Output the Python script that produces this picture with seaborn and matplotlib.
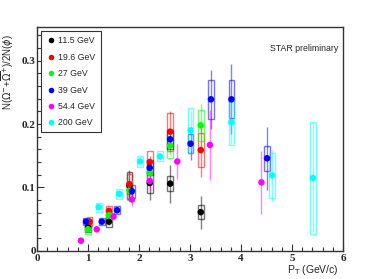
import numpy as np
import pandas as pd
import matplotlib
matplotlib.use("Agg")
import matplotlib.pyplot as plt
from matplotlib.patches import Rectangle
from matplotlib.ticker import MultipleLocator
import seaborn as sns

# data: pT, ratio, stat error, sys error
energies = ["11.5 GeV", "19.6 GeV", "27 GeV", "39 GeV", "54.4 GeV", "200 GeV"]
colors = ["#000000", "#FF0000", "#00FF00", "#0000FF", "#FF00FF", "#00FFFF"]

pt_115 = [1.00, 1.41, 1.81, 2.21, 2.61, 3.21]
y_115 = [0.037, 0.046, 0.103, 0.107, 0.106, 0.061]
stat_115 = [0.006, 0.006, 0.025, 0.027, 0.030, 0.026]
sys_115 = [0.008, 0.008, 0.022, 0.016, 0.012, 0.011]

pt_196 = [1.03, 1.41, 1.81, 2.21, 2.61, 3.21]
y_196 = [0.046, 0.063, 0.105, 0.140, 0.188, 0.159]
stat_196 = [0.005, 0.005, 0.010, 0.010, 0.032, 0.043]
sys_196 = [0.007, 0.007, 0.016, 0.018, 0.030, 0.027]

pt_27 = [1.00, 1.41, 1.81, 2.21, 2.61, 3.21]
y_27 = [0.034, 0.056, 0.095, 0.123, 0.166, 0.198]
stat_27 = [0.005, 0.005, 0.010, 0.010, 0.015, 0.033]
sys_27 = [0.008, 0.007, 0.015, 0.015, 0.020, 0.024]

pt_39 = [0.96, 1.27, 1.57, 1.86, 2.21, 2.61, 3.01, 3.41, 3.81, 4.51]
y_39 = [0.046, 0.046, 0.064, 0.094, 0.131, 0.176, 0.169, 0.239, 0.239, 0.146]
stat_39 = [0.004, 0.004, 0.004, 0.008, 0.008, 0.010, 0.026, 0.047, 0.055, 0.050]
sys_39 = [0.006, 0.005, 0.006, 0.010, 0.012, 0.015, 0.015, 0.031, 0.030, 0.020]

pt_544 = [0.86, 1.17, 1.50, 1.86, 2.21, 2.75, 3.39, 4.40]
y_544 = [0.016, 0.034, 0.054, 0.081, 0.110, 0.141, 0.167, 0.108]
stat_544 = [0.003, 0.004, 0.005, 0.010, 0.015, 0.028, 0.055, 0.050]

pt_200 = [1.21, 1.61, 2.02, 2.41, 3.01, 3.81, 4.61, 5.41]
y_200 = [0.069, 0.090, 0.141, 0.149, 0.190, 0.203, 0.119, 0.115]
stat_200 = [0.003, 0.003, 0.004, 0.004, 0.030, 0.034, 0.040, 0.085]
sys_200 = [0.007, 0.008, 0.008, 0.008, 0.035, 0.036, 0.036, 0.089]

series = [
    (pt_115, y_115, stat_115, sys_115),
    (pt_196, y_196, stat_196, sys_196),
    (pt_27, y_27, stat_27, sys_27),
    (pt_39, y_39, stat_39, sys_39),
    (pt_544, y_544, stat_544, None),
    (pt_200, y_200, stat_200, sys_200),
]

rows = []
for name, (pt, y, st, sy) in zip(energies, series):
    for i in range(len(pt)):
        rows.append({"energy": name, "pt": pt[i], "ratio": y[i], "stat": st[i],
                     "sys": sy[i] if sy is not None else np.nan})
df = pd.DataFrame(rows)

sns.set_style("ticks")
fig = plt.figure(figsize=(3.82, 2.79), dpi=100)
ax = fig.add_axes([0.097, 0.101, 0.801, 0.802])

# systematic boxes and stat bars
for name, col in zip(energies, colors):
    sub = df[df["energy"] == name]
    ax.errorbar(sub["pt"], sub["ratio"], yerr=sub["stat"], fmt="none",
                ecolor=col, elinewidth=1.0, alpha=0.5, zorder=2)
    for _, r in sub.iterrows():
        if np.isnan(r["sys"]):
            continue
        ax.add_patch(Rectangle((r["pt"] - 0.055, r["ratio"] - r["sys"]), 0.11, 2 * r["sys"],
                               fill=False, edgecolor=col, lw=1.0, alpha=0.55, zorder=2))

sns.scatterplot(data=df, x="pt", y="ratio", hue="energy", hue_order=energies,
                palette=colors, s=22, edgecolor="none", ax=ax, zorder=3, legend=False)

ax.set_xlim(0, 6)
ax.set_ylim(0, 0.353)
ax.xaxis.set_major_locator(MultipleLocator(1))
ax.xaxis.set_minor_locator(MultipleLocator(0.2))
ax.yaxis.set_major_locator(MultipleLocator(0.1))
ax.yaxis.set_minor_locator(MultipleLocator(0.02))
ax.tick_params(which="both", direction="in", top=False, right=False, color="#333333")
ax.tick_params(which="major", length=5, width=0.8)
ax.tick_params(which="minor", length=3, width=0.8)
ax.set_xticks([0, 1, 2, 3, 4, 5, 6])
ax.set_xticklabels(["0", "1", "2", "3", "4", "5", "6"])
ax.set_yticks([0, 0.1, 0.2, 0.3])
ax.set_yticklabels(["0", "0.1", "0.2", "0.3"])
for lab in ax.get_xticklabels() + ax.get_yticklabels():
    lab.set_fontfamily("Liberation Serif")
    lab.set_fontweight("bold")
    lab.set_fontsize(8)
ax.tick_params(axis="x", pad=2)
ax.tick_params(axis="y", pad=1)
for sp in ax.spines.values():
    sp.set_color("#333333")
    sp.set_linewidth(1.0)

ax.set_xlabel(r"P$_{\mathrm{T}}$ (GeV/c)", fontsize=7.5, family="Liberation Sans", labelpad=0)
ax.xaxis.set_label_coords(0.9, -0.055)
ax.set_ylabel(r"N($\Omega^{-}$+$\overline{\Omega}^{+}$)/2N($\phi$)", fontsize=7,
              family="Liberation Sans", labelpad=0)
ax.yaxis.set_label_coords(-0.068, 0.8)

ax.text(0.985, 0.905, "STAR preliminary", transform=ax.transAxes, ha="right", va="center",
        fontsize=6.3, family="Liberation Sans")

handles = [plt.Line2D([], [], ls="none", marker="o", ms=4, color=c, mec="none") for c in colors]
leg = ax.legend(handles, energies, loc="upper left", bbox_to_anchor=(0.0, 1.0), frameon=True,
                fancybox=False, edgecolor="#333333", framealpha=1, handletextpad=0.2,
                handlelength=1.2, borderpad=0.55, labelspacing=0.85,
                prop={"family": "Liberation Sans", "size": 6.3})
leg.get_frame().set_linewidth(0.8)

fig.savefig("out.png", dpi=100)
